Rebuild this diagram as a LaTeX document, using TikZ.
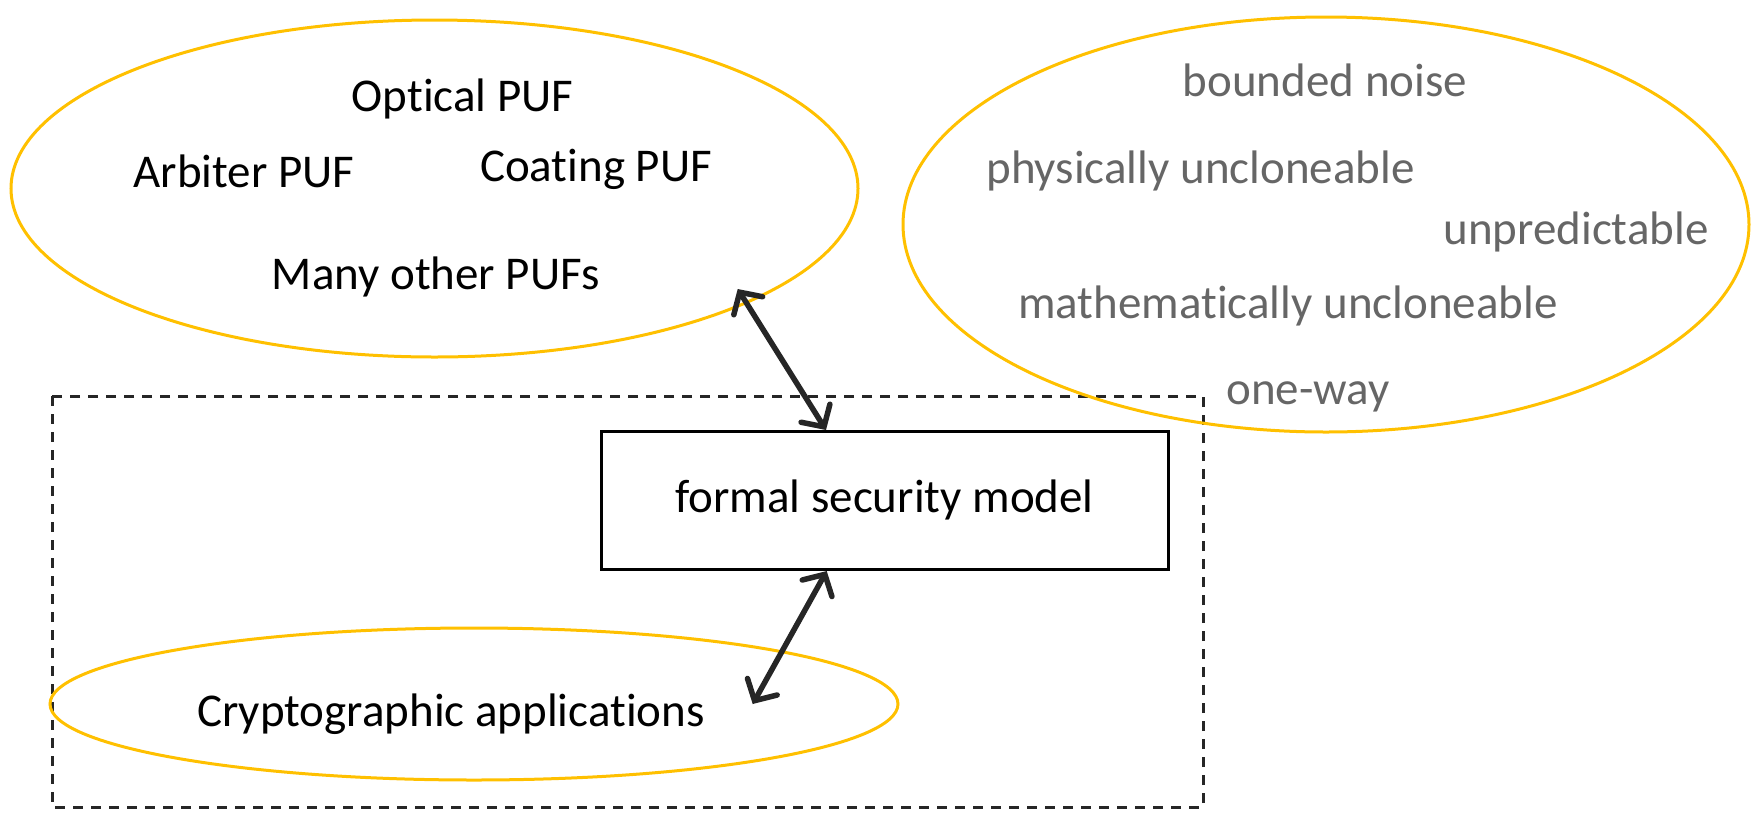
\documentclass[tikz,border=0pt]{standalone}
\usepackage{fontspec}
\setmainfont{Carlito}[Ligatures=NoCommon]
\usetikzlibrary{arrows.meta,shapes.geometric}
\definecolor{pufgold}{HTML}{FFC000}
\definecolor{propgray}{HTML}{666666}
\definecolor{inkdark}{HTML}{262626}
\begin{document}
\begin{tikzpicture}[x=1pt,y=-1pt,
  every node/.style={font=\fontsize{47}{56}\selectfont, inner sep=0pt},
  cloud/.style={ellipse, draw=pufgold, line width=3pt},
  prop/.style={text=propgray},
  link/.style={draw=inkdark, line width=5.5pt, line cap=round,
    {Straight Barb[length=16pt,width=34pt,line cap=round]}-{Straight Barb[length=16pt,width=34pt,line cap=round]}}]
\useasboundingbox (0,0) rectangle (1756,812);

% dashed frame around model and applications
\draw[inkdark, line width=3pt, dash pattern=on 10pt off 8pt] (52,396) rectangle (1203,807);

% PUF constructions
\node[cloud, minimum width=847pt, minimum height=337pt] (pufs) at (434.5,188.5) {};
\node (optical) at (462.5,98.5) {Optical PUF};
\node (arbiter) at (244,171) {Arbiter PUF};
\node (coating) at (596,169) {Coating PUF};
\node (many) at (435.7,276.6) {Many other PUFs};

% informal properties
\node[cloud, minimum width=846pt, minimum height=415pt] (props) at (1326,224.5) {};
\node[prop] (noise) at (1325,80.6) {bounded noise};
\node[prop] (phys) at (1200.6,171) {physically uncloneable};
\node[prop] (unpred) at (1576,232) {unpredictable};
\node[prop] (math) at (1288,305.8) {mathematically uncloneable};
\node[prop] (oneway) at (1308,396.5) {one-way};

% formal model
\node[draw=black, line width=3pt, minimum width=567pt, minimum height=138pt] (fsm) at (884.5,500) {formal security model};

% applications
\node[cloud, minimum width=848pt, minimum height=152pt] (apps) at (474,704) {};
\node (appstext) at (451,714.6) {Cryptographic applications};

% links
\coordinate (pufend) at (737.7,289);
\coordinate (fsmtop) at (826,430);
\coordinate (fsmbot) at (826.7,571);
\coordinate (append) at (752.7,704);
\draw[link] (pufend) -- (fsmtop);
\draw[link] (fsmbot) -- (append);
\end{tikzpicture}
\end{document}
